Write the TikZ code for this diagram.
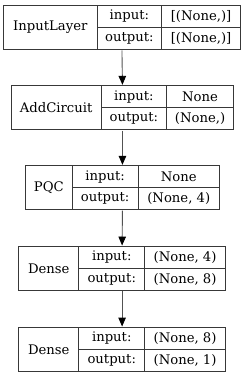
\documentclass[tikz,border=0pt]{standalone}
\usepackage{fontspec}
\setmainfont{DejaVu Serif}
\usetikzlibrary{arrows.meta,fit}

\begin{document}
\begin{tikzpicture}[
  x=1pt,y=-1pt,
  >={Triangle[length=9pt,width=7.5pt,color=black]},
  cell/.style={draw=black!78,line width=0.9pt,inner sep=0pt,anchor=north west,
    minimum height=22pt,font=\fontsize{13.2}{14}\selectfont},
  every path/.style={line width=0.9pt}
]
  \useasboundingbox (0,0) rectangle (244,376);
  % one record per layer: name, label, left, divider 1, divider 2, right, top, input, output
  \foreach \name/\lbl/\xa/\xb/\xc/\xd/\yt/\vin/\vout in {
      inputlayer/InputLayer/3/96.7/161.3/240/5/{[(None,)]}/{[(None,)]},
      addcircuit/AddCircuit/10.7/100.7/166/233.3/85.3/None/{(None,)},
      pqc/PQC/25/71.7/137.7/219/165.3/None/{(None, 4)},
      dense/Dense/18.3/78.3/144.3/225/246/{(None, 4)}/{(None, 8)},
      denseout/Dense/18.3/78.3/144.3/225/327/{(None, 8)}/{(None, 1)}} {
    \node[cell,minimum width=\xb-\xa,minimum height=44pt] (\name-lbl) at (\xa,\yt) {\lbl};
    \node[cell,minimum width=\xc-\xb] (\name-in) at (\xb,\yt) {input:};
    \node[cell,minimum width=\xc-\xb] (\name-out) at (\xb,\yt+22) {output:};
    \node[cell,minimum width=\xd-\xc] (\name-inval) at (\xc,\yt) {\vin};
    \node[cell,minimum width=\xd-\xc] (\name-outval) at (\xc,\yt+22) {\vout};
    \node[fit=(\name-lbl)(\name-outval),inner sep=0pt] (\name) {};
  }
  \foreach \a/\b in {inputlayer/addcircuit,addcircuit/pqc,pqc/dense,dense/denseout}
    \draw[->,draw=black!68] (\a.south) -- (\b.north);
\end{tikzpicture}
\end{document}
